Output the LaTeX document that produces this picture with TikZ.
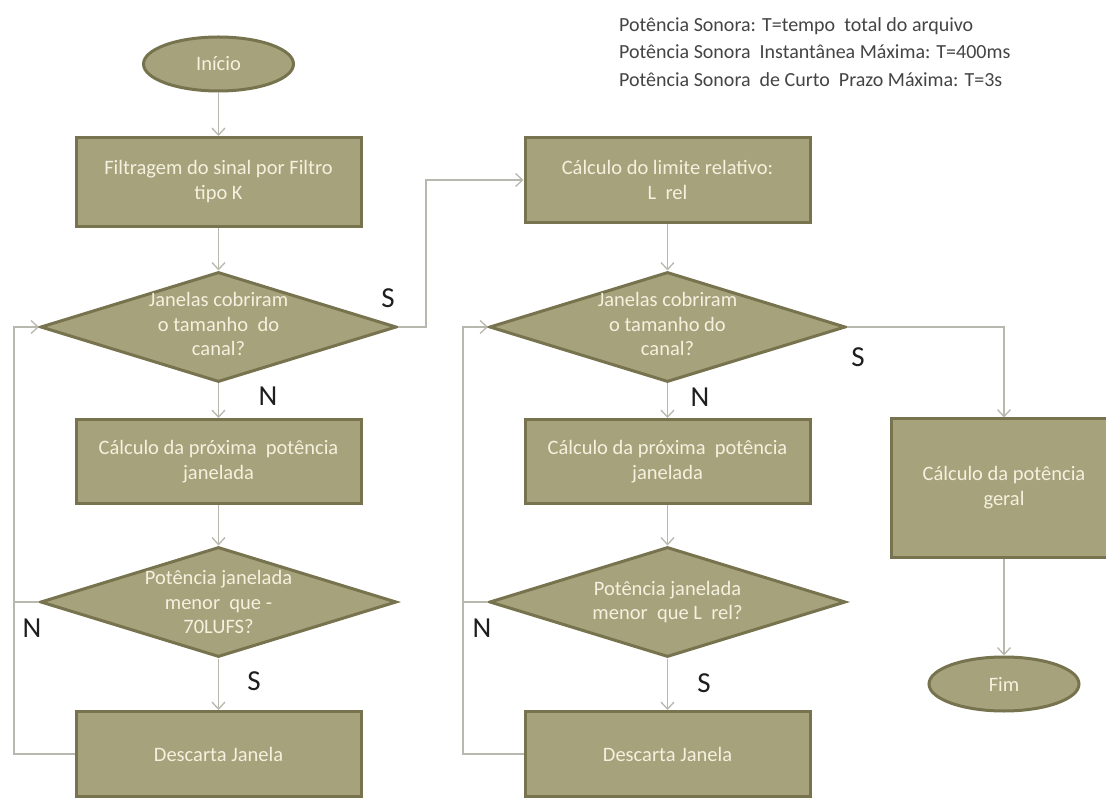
\documentclass[tikz,border=0pt]{standalone}
\usepackage{fontspec}
\setmainfont{Carlito}
\usetikzlibrary{shapes.geometric,arrows.meta}
\definecolor{boxfill}{HTML}{A6A27C}
\definecolor{boxedge}{HTML}{77734F}
\definecolor{boxtext}{HTML}{F4F1DE}
\definecolor{linecol}{HTML}{B8B8AE}
\definecolor{labelcol}{HTML}{1E1E1E}
\definecolor{notecol}{HTML}{444444}
\begin{document}
\begin{tikzpicture}[x=1pt,y=-1pt,
  proc/.style={rectangle, draw=boxedge, line width=3pt, fill=boxfill, text=boxtext,
    font=\fontsize{20.5}{25}\selectfont, align=center, inner sep=0pt},
  term/.style={ellipse, draw=boxedge, line width=3pt, fill=boxfill, text=boxtext,
    font=\fontsize{20.5}{25}\selectfont, inner sep=0pt, minimum width=150pt, minimum height=54pt},
  dec/.style={diamond, draw=boxedge, line width=3pt, fill=boxfill, inner sep=0pt,
    minimum width=356pt, minimum height=110pt},
  dtext/.style={text=boxtext, font=\fontsize{20.5}{24.5}\selectfont, align=center, inner sep=0pt},
  lbl/.style={text=labelcol, font=\fontsize{29}{32}\selectfont, inner sep=0pt},
  conn/.style={draw=linecol, line width=1.3pt, -{Straight Barb[length=7pt,width=13pt]}},
  joinline/.style={draw=linecol, line width=1.3pt}
]
\fill[white] (0,0) rectangle (1106,799);
\useasboundingbox (0,0) rectangle (1106,799);

% notes in the upper right corner
\node[anchor=west, align=left, text=notecol, inner sep=0pt,
  font=\fontsize{20}{27.5}\selectfont] (notes) at (619,52)
  {Potência Sonora: T=tempo\ \ total do\ arquivo\\
   Potência Sonora\ \ Instantânea Máxima: T=400ms\\
   Potência Sonora\ \ de Curto\ \ Prazo Máxima: T=3s};

% left column
\node[term] (start) at (218.5,64) {Início};
\node[proc, minimum width=285pt, minimum height=89pt] (filt) at (218.5,182) {Filtragem do sinal por Filtro\\tipo K};
\node[dec] (d1) at (218.5,327) {};
\node[dtext] (d1t) at (218.5,324) {Janelas cobriram\\o tamanho\ \ do\\canal?};
\node[proc, minimum width=285pt, minimum height=84pt] (nextA) at (218.5,461.5) {Cálculo da próxima\ \ potência\\janelada};
\node[dec] (d3) at (218.5,602) {};
\node[dtext] (d3t) at (218.5,602) {Potência janelada\\menor\ \ que -\\70LUFS?};
\node[proc, minimum width=285pt, minimum height=85pt] (dropA) at (218.5,754) {Descarta Janela};

% middle column
\node[proc, minimum width=285pt, minimum height=85pt] (lrel) at (667.5,180) {Cálculo do limite relativo:\\L\ \ rel};
\node[dec] (d2) at (667.5,327) {};
\node[dtext] (d2t) at (667.5,324) {Janelas cobriram\\o tamanho do\\canal?};
\node[proc, minimum width=285pt, minimum height=84pt] (nextB) at (667.5,461.5) {Cálculo da próxima\ \ potência\\janelada};
\node[dec] (d4) at (667.5,602) {};
\node[dtext] (d4t) at (667.5,602) {Potência janelada\\menor\ \ que L\ \ rel?};
\node[proc, minimum width=285pt, minimum height=85pt] (dropB) at (667.5,754) {Descarta Janela};

% right column
\node[proc, minimum width=226pt, minimum height=138pt] (total) at (1004,488) {Cálculo da potência\\geral};
\node[term] (stop) at (1004,684) {Fim};

% bend points of the routed connectors
\coordinate (jA) at (426,180);
\coordinate (loopA) at (14,327);
\coordinate (loopB) at (463,327);

% connectors
\draw[conn] (start) -- (filt);
\draw[conn] (filt) -- (d1);
\draw[conn] (d1.south) -- (nextA);
\draw[conn] (nextA) -- (d3.north);
\draw[conn] (d3.south) -- (dropA);
\draw[conn] (d1.east) -| (jA) -- (lrel.west);
\draw[conn] (dropA.west) -| (loopA) -- (d1.west);
\draw[joinline] (d3.west) -- (d3.west -| loopA);

\draw[conn] (lrel) -- (d2.north);
\draw[conn] (d2.south) -- (nextB);
\draw[conn] (nextB) -- (d4.north);
\draw[conn] (d4.south) -- (dropB);
\draw[conn] (dropB.west) -| (loopB) -- (d2.west);
\draw[joinline] (d4.west) -- (d4.west -| loopB);

\draw[conn] (d2.east) -| (total.north);
\draw[conn] (total) -- (stop);

% branch labels
\node[lbl] (sA) at (388,298) {S};
\node[lbl] (nA) at (268,396) {N};
\node[lbl] (nA2) at (32,628) {N};
\node[lbl] (sA2) at (254,681) {S};
\node[lbl] (sB) at (858,357) {S};
\node[lbl] (nB) at (700,397) {N};
\node[lbl] (nB2) at (482,628) {N};
\node[lbl] (sB2) at (704,683) {S};
\end{tikzpicture}
\end{document}
